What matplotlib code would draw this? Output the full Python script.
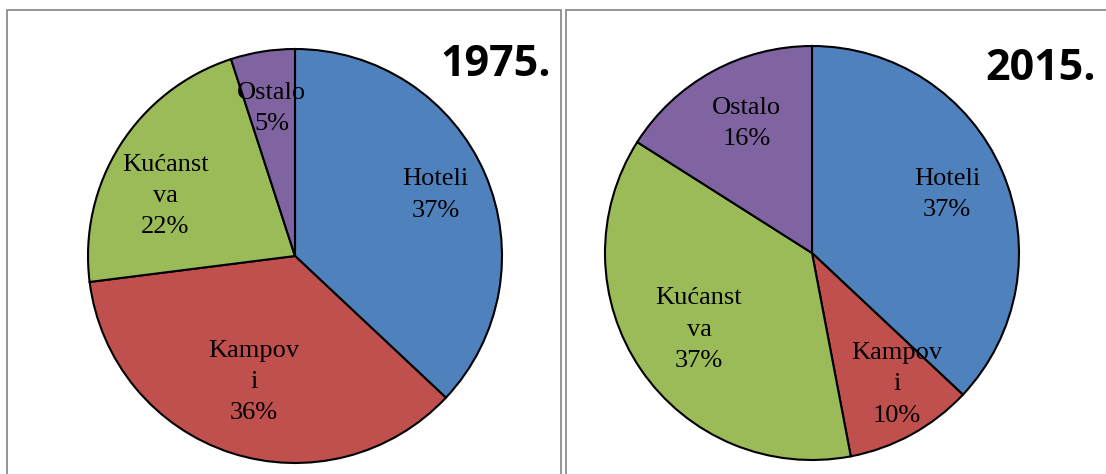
import matplotlib
matplotlib.use("Agg")
import matplotlib.pyplot as plt
from matplotlib.patches import Rectangle
import numpy as np

W, H = 1106, 474
DPI = 100

labels_1975 = ["Hoteli", "Kampov\ni", "Kućanst\nva", "Ostalo"]
values_1975 = [37, 36, 22, 5]
labels_2015 = ["Hoteli", "Kampov\ni", "Kućanst\nva", "Ostalo"]
values_2015 = [37, 10, 37, 16]
titles = ["1975.", "2015."]

colors = ["#4F81BD", "#C0504D", "#9BBB59", "#8064A2"]

fig = plt.figure(figsize=(W / DPI, H / DPI), dpi=DPI)
fig.patch.set_facecolor("white")


def px_axes(cx, cy, r):
    return fig.add_axes([(cx - r) / W, (H - cy - r) / H, 2 * r / W, 2 * r / H])


# panel borders
for (x0, x1) in [(7, 561), (566, 1110)]:
    rect = Rectangle((x0 / W, -0.1), (x1 - x0) / W, (H - 10) / H + 0.1,
                     transform=fig.transFigure, fill=False,
                     edgecolor="#8c8c8c", linewidth=1.3, zorder=0)
    fig.patches.append(rect)


def draw(ax, labels, values, dists, nudges):
    ax.pie(values, colors=colors, startangle=90, counterclock=False,
           radius=1.0, wedgeprops=dict(edgecolor="black", linewidth=1.5))
    total = float(sum(values))
    cum = 0.0
    for lab, v, d, nd in zip(labels, values, dists, nudges):
        mid = cum + v / 2.0
        ang = np.deg2rad(90 - 360.0 * mid / total + nd)
        ax.text(d * np.cos(ang), d * np.sin(ang), f"{lab}\n{v}%",
                ha="center", va="center", fontsize=19,
                family="Liberation Serif", linespacing=1.55)
        cum += v
    ax.set_xlim(-1, 1)
    ax.set_ylim(-1, 1)
    ax.set_aspect("equal")
    ax.axis("off")


ax1 = px_axes(295, 256, 207)
draw(ax1, labels_1975, values_1975, [0.74, 0.64, 0.69, 0.72], [0, 0, 7.5, 0])
ax2 = px_axes(812, 253, 207)
draw(ax2, labels_2015, values_2015, [0.71, 0.755, 0.66, 0.70], [0, 4, 0, -2])

fig.text(496 / W, 1 - 64 / H, titles[0], ha="center", va="center",
         fontsize=31, fontweight="bold", family="Open Sans")
fig.text(1041 / W, 1 - 68 / H, titles[1], ha="center", va="center",
         fontsize=31, fontweight="bold", family="Open Sans")

fig.savefig("out.png", dpi=DPI)
